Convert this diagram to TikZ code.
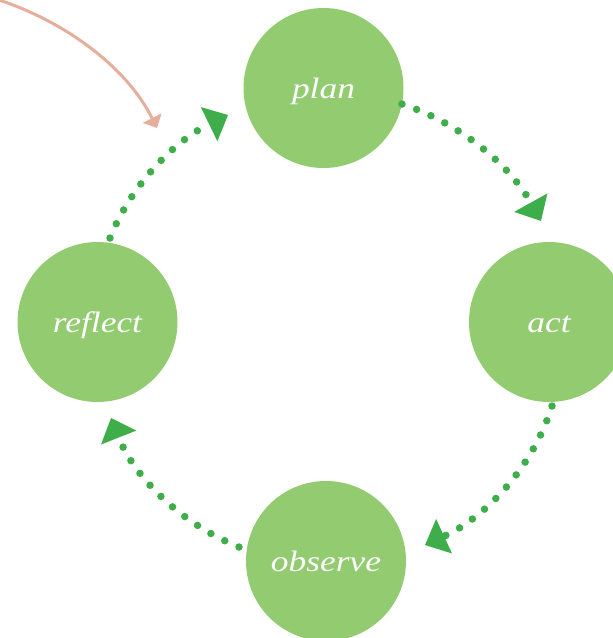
\documentclass[tikz,border=0pt]{standalone}
\usepackage{fontspec}
\newfontfamily\labelfont[FakeStretch=1.2]{Liberation Serif}
\usetikzlibrary{arrows.meta}
\definecolor{stagefill}{RGB}{146,203,112}
\definecolor{loopgreen}{RGB}{61,174,73}
\definecolor{entryline}{RGB}{230,174,156}
\begin{document}
\begin{tikzpicture}[x=1pt,y=-1pt,
  stage/.style={circle,fill=stagefill,minimum size=160pt,inner sep=0pt,
    text=white,text height=20pt,text depth=0pt,
    font=\labelfont\itshape\fontsize{29.5}{34}\selectfont},
  cyclearrow/.style={loopgreen,line width=7.5pt,line cap=round,
    dash pattern=on 0pt off 15.6pt,
    -{Triangle[length=21pt,width=38pt,line width=0pt]}},
  entryarrow/.style={entryline,line width=3pt,
    -{Triangle[length=11pt,width=21pt,line width=0pt]}}]
\useasboundingbox (0,0) rectangle (613,638);

% the four stages of the cycle
\node[stage] (plan)    at (323.5,88)  {plan};
\node[stage] (act)     at (549,322)   {act};
\node[stage] (observe) at (326,561)   {observe};
\node[stage] (reflect) at (97.5,322)  {reflect};

% start and end points of the dotted connectors
\coordinate (reflectOut) at (110,238);
\coordinate (planIn)     at (228,115);
\coordinate (planOut)    at (402,104);
\coordinate (actIn)      at (541,221);
\coordinate (actOut)     at (552,406);
\coordinate (observeIn)  at (425,545);
\coordinate (observeOut) at (239,547);
\coordinate (reflectIn)  at (111,418);

% dotted arcs running clockwise round the cycle
\draw[cyclearrow] (reflectOut) .. controls (131.7,183.6) and (175.3,140.6) .. (planIn);
\draw[cyclearrow] (planOut) .. controls (461.5,123.8) and (510.5,166.2) .. (actIn);
\draw[cyclearrow] (actOut) .. controls (532.4,468.6) and (484.6,517.6) .. (observeIn);
\draw[cyclearrow] (observeOut) .. controls (180.6,523.7) and (134.1,476.5) .. (reflectIn);

% entry into the cycle from the upper left
\coordinate (entryStart) at (-4,-1);
\coordinate (entryEnd)   at (157,128);
\draw[entryarrow] (entryStart) .. controls (62,20) and (125.7,65.4) .. (entryEnd);
\end{tikzpicture}
\end{document}
